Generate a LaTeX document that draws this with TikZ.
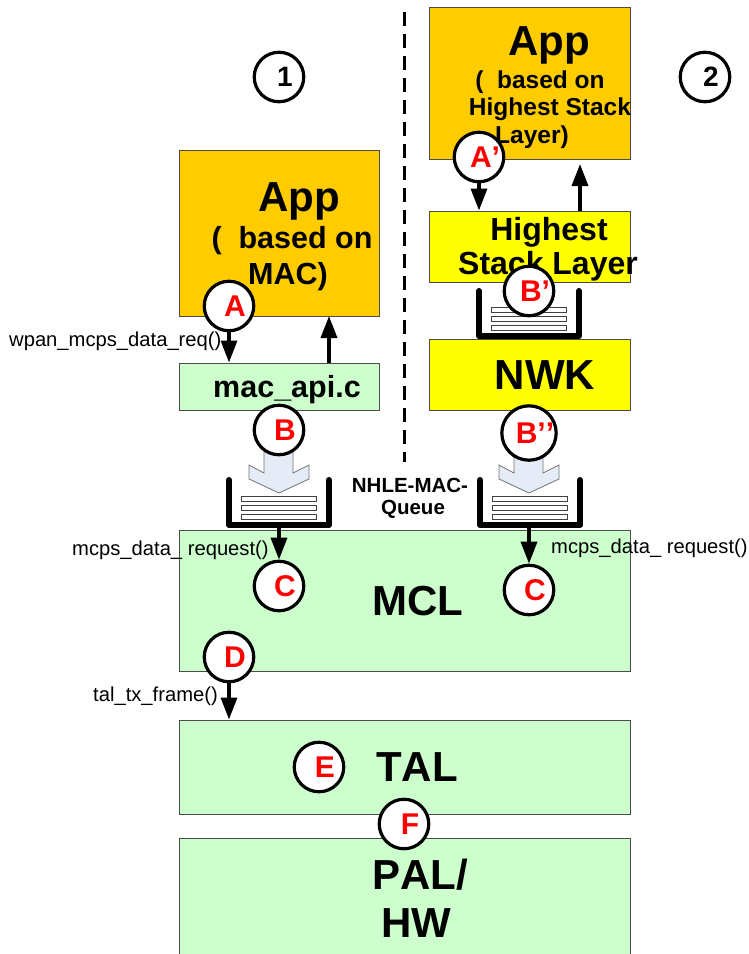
\documentclass[tikz,border=0pt]{standalone}
\usepackage{fontspec}
\setmainfont[Kerning=Off]{Liberation Sans}
\usepackage{tikz}
\usetikzlibrary{arrows.meta}

\definecolor{appcol}{RGB}{255,204,0}
\definecolor{stackcol}{RGB}{255,255,0}
\definecolor{layercol}{RGB}{204,255,204}
\definecolor{fillcol}{RGB}{230,236,247}
\newcommand{\fs}[1]{\fontsize{#1}{#1}\selectfont}

\begin{document}
\begin{tikzpicture}[x=1pt,y=-1pt,
    box/.style={draw=black!70,line width=1pt,inner sep=0pt,anchor=north west},
    stepmark/.style={draw=black,line width=3.2pt,fill=white,circle,inner sep=0pt,minimum size=49.5pt,text=red,font=\fs{30}\bfseries,execute at begin node=\hspace*{12pt}},
    num/.style={stepmark,text=black,font=\fs{28}\bfseries},
    big/.style={font=\fs{42}\bfseries,inner sep=0pt},
    mid/.style={font=\fs{32}\bfseries,inner sep=0pt},
    small/.style={font=\fs{24.5}\bfseries,inner sep=0pt},
    call/.style={font=\fs{20.2},inner sep=0pt},
    flow/.style={line width=3.5pt,-{Triangle[width=16pt,length=22pt]}},
    bar/.style={draw=black!75,fill=white,line width=1pt},
    tray/.style={draw=black,line width=6pt,line cap=round,line join=round},
    chute/.style={draw=black!55,fill=fillcol,line width=.8pt}]
    \useasboundingbox (0,0) rectangle (748,954);
    \node [box,fill=appcol,minimum width=200pt,minimum height=166pt] (app1) at (178.5,149.5) {};
    \node [box,fill=layercol,minimum width=200pt,minimum height=47pt] (macapi) at (178.5,362.5) {};
    \node [box,fill=appcol,minimum width=201pt,minimum height=152pt] (app2) at (428.5,6.5) {};
    \node [box,fill=stackcol,minimum width=201pt,minimum height=71pt] (high) at (428.5,210.5) {};
    \node [box,fill=stackcol,minimum width=201pt,minimum height=71pt] (nwk) at (428.5,338.5) {};
    \node [box,fill=layercol,minimum width=451pt,minimum height=141pt] (mcl) at (178.5,529.5) {};
    \node [box,fill=layercol,minimum width=451pt,minimum height=94pt] (tal) at (178.5,719.5) {};
    \node [box,fill=layercol,minimum width=451pt,minimum height=120pt] (pal) at (178.5,837.5) {};
    \draw [black,line width=3pt,dash pattern=on 14pt off 8pt] (404,12) -- (404,462);
    \node [big] (tapp1) at (299,201) {App};
    \node [mid,font=\fs{30.5}\bfseries] (tapp1b) at (292,241) {(\ \ based on};
    \node [mid,font=\fs{30.5}\bfseries] (tapp1c) at (288,277) {MAC)};
    \node [big] (tapp2) at (549,45) {App};
    \node [small] (tapp2b) at (540,82) {(\ \ based on};
    \node [small] (tapp2c) at (550,109) {Highest Stack};
    \node [small] (tapp2d) at (532,137) {Layer)};
    \node [mid] (thigh) at (549,232) {Highest};
    \node [mid] (tstack) at (548,266) {Stack Layer};
    \node [big] (tnwk) at (545,375) {NWK};
    \node [mid,font=\fs{30.5}\bfseries] (tmac) at (287,390) {mac\_api.c};
    \node [big] (tmcl) at (418,601) {MCL};
    \node [big] (ttal) at (417,767) {TAL};
    \node [big] (tpal) at (420,875) {PAL/};
    \node [big] (thw) at (416,923) {HW};
    \node [font=\fs{20.5}\bfseries,inner sep=0pt] (tq1) at (410,485) {NHLE-MAC-};
    \node [font=\fs{20.5}\bfseries,inner sep=0pt] (tq2) at (413,509) {Queue};
    \node [call,anchor=west] (twpan) at (9,341) {wpan\_mcps\_data\_req()};
    \node [call,anchor=west] (tmcps1) at (72,550) {mcps\_data\_ request()};
    \node [call,anchor=west] (tmcps2) at (551,548) {mcps\_data\_ request()};
    \node [call,anchor=west] (ttx) at (93,696) {tal\_tx\_frame()};
    \foreach \qx/\qy in {229/480,480/480,479/291} {
        \draw [tray] (\qx,\qy) -- (\qx,\qy+45) -- (\qx+100,\qy+45) -- (\qx+100,\qy);
        \foreach \by in {16,25,34} {
            \draw [bar] (\qx+12,\qy+\by) rectangle (\qx+87,\qy+\by+5);
        }
    }
    \foreach \cx in {279,529} {
        \draw [chute] (\cx-15,448) -- (\cx+14,448) -- (\cx+14,473) -- (\cx+30,465) -- (\cx+30,479)
            -- (\cx,493) -- (\cx-30,479) -- (\cx-30,465) -- (\cx-15,473) -- cycle;
    }
    \coordinate (macup) at (329,363);
    \coordinate (appup) at (329,316);
    \coordinate (highup) at (580,211);
    \coordinate (app2up) at (580,164);
    \coordinate (tray1) at (279,525);
    \coordinate (tray2) at (529,525);
    \node [stepmark] (ma) at (229,306) {A};
    \node [stepmark] (mb) at (279,430) {B};
    \node [stepmark] (mc1) at (279,586) {C};
    \node [stepmark] (mc2) at (529,590) {C};
    \node [stepmark] (md) at (229,657) {D};
    \node [stepmark] (me) at (319,767) {E};
    \node [stepmark] (mf) at (404,824) {F};
    \node [stepmark] (map) at (479,157) {A’};
    \node [stepmark] (mbp) at (529,291) {B’};
    \node [stepmark] (mbq) at (529,433) {B’’};
    \node [num] (n1) at (279,77) {1};
    \node [num] (n2) at (705,77) {2};
    \draw [flow] (ma) -- (ma |- macapi.north);
    \draw [flow] (macup) -- (appup);
    \draw [flow] (map) -- (map |- high.north);
    \draw [flow] (highup) -- (app2up);
    \draw [flow] (tray1) -- (mc1);
    \draw [flow] (tray2) -- (mc2);
    \draw [flow] (md) -- (md |- tal.north);
\end{tikzpicture}
\end{document}
